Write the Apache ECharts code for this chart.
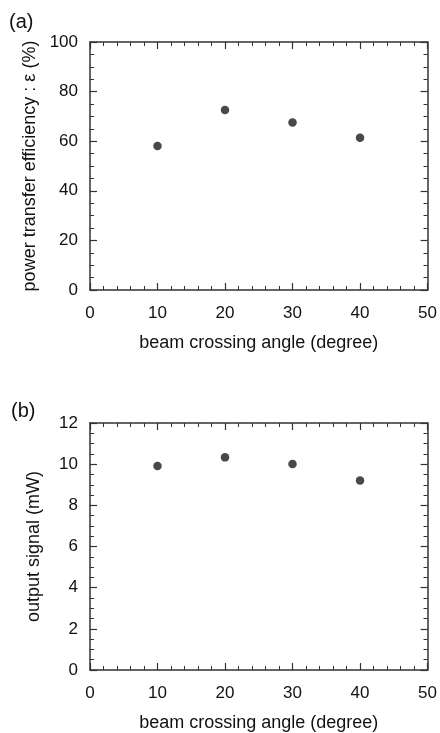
<!DOCTYPE html>
<html><head><meta charset="utf-8">
<script src="https://cdn.jsdelivr.net/npm/echarts@6/dist/echarts.min.js"></script>
<style>html,body{margin:0;padding:0;background:#fff}#c{width:440px;height:733px}</style>
</head><body><div id="c"></div>
<script>
const angles = [10, 20, 30, 40];
const efficiency = [58.1, 72.6, 67.5, 61.4];
const outputSignal = [9.91, 10.33, 10.01, 9.21];
const xLabelA = 'beam crossing angle (degree)';
const yLabelA = 'power transfer efficiency : \u03b5 (%)';
const yLabelB = 'output signal (mW)';

const FONT = '"Liberation Sans", Arial, Helvetica, sans-serif';
const INK = '#111';
const chart = echarts.init(document.getElementById('c'), null, {renderer: 'canvas'});

function xAx(gi, main) {
  return {
    type: 'value', gridIndex: gi, min: 0, max: 50, interval: 10,
    position: main ? 'bottom' : 'top',
    name: main ? xLabelA : '', nameLocation: 'middle', nameGap: 44,
    nameTextStyle: {fontFamily: FONT, fontSize: 18, color: INK},
    axisLine: {show: true, onZero: false, lineStyle: {color: '#333', width: 1.5}},
    axisTick: {show: true, inside: true, length: 7, lineStyle: {color: '#333', width: 1.2}},
    minorTick: {show: true, splitNumber: 5, length: 4, lineStyle: {color: '#333', width: 1}},
    axisLabel: {show: main, margin: 15, fontFamily: FONT, fontSize: 17, color: INK},
    splitLine: {show: false}
  };
}
function yAx(gi, main, max, interval, name) {
  return {
    type: 'value', gridIndex: gi, min: 0, max: max, interval: interval,
    position: main ? 'left' : 'right',
    name: main ? name : '', nameLocation: 'middle', nameGap: 47,
    nameTextStyle: {fontFamily: FONT, fontSize: 18, color: INK},
    axisLine: {show: true, onZero: false, lineStyle: {color: '#333', width: 1.5}},
    axisTick: {show: true, inside: true, length: 7, lineStyle: {color: '#333', width: 1.2}},
    minorTick: {show: true, splitNumber: 4, length: 4, lineStyle: {color: '#333', width: 1}},
    axisLabel: {show: main, margin: 12, fontFamily: FONT, fontSize: 17, color: INK},
    splitLine: {show: false}
  };
}

chart.setOption({
  animation: false,
  backgroundColor: '#fff',
  title: [
    {text: '(a)', left: 4, top: 7, textStyle: {fontFamily: FONT, fontSize: 20, fontWeight: 'normal', color: INK}},
    {text: '(b)', left: 6, top: 396, textStyle: {fontFamily: FONT, fontSize: 20, fontWeight: 'normal', color: INK}}
  ],
  grid: [
    {left: 90, right: 12, top: 42, height: 248},
    {left: 90, right: 12, top: 423, height: 250}
  ],
  xAxis: [xAx(0, true), xAx(0, false), xAx(1, true), xAx(1, false)],
  yAxis: [yAx(0, true, 100, 20, yLabelA), yAx(0, false, 100, 20, ''),
          yAx(1, true, 12, 2, yLabelB), yAx(1, false, 12, 2, '')],
  series: [
    {type: 'scatter', xAxisIndex: 0, yAxisIndex: 0, symbolSize: 8.5,
     itemStyle: {color: '#1c1c1c'}, data: angles.map((a, i) => [a, efficiency[i]])},
    {type: 'scatter', xAxisIndex: 2, yAxisIndex: 2, symbolSize: 8.5,
     itemStyle: {color: '#1c1c1c'}, data: angles.map((a, i) => [a, outputSignal[i]])}
  ]
});
</script></body></html>
